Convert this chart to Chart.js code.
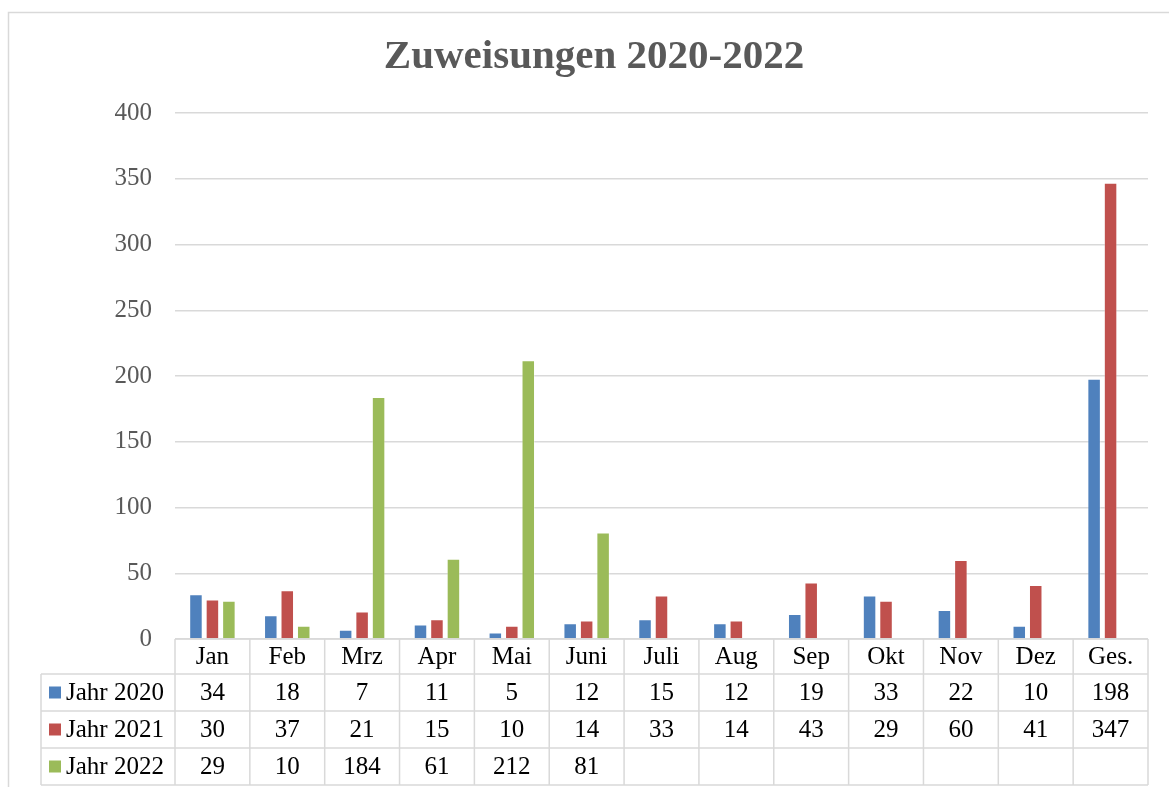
<!DOCTYPE html>
<html>
<head>
<meta charset="utf-8">
<title>Zuweisungen 2020-2022</title>
<script src="https://cdn.jsdelivr.net/npm/chart.js@4"></script>
<style>
  html, body { margin: 0; padding: 0; background: #fff; }
  #wrap { position: relative; width: 1169px; height: 787px; }
</style>
</head>
<body>
<div id="wrap"><canvas id="chart" width="1169" height="787"></canvas></div>
<script>
/* Zuweisungen 2020-2022 — bar chart with an Excel-style data table underneath */
const months = ["Jan", "Feb", "Mrz", "Apr", "Mai", "Juni", "Juli", "Aug", "Sep", "Okt", "Nov", "Dez", "Ges."];
const jahr2020 = [34, 18, 7, 11, 5, 12, 15, 12, 19, 33, 22, 10, 198];
const jahr2021 = [30, 37, 21, 15, 10, 14, 33, 14, 43, 29, 60, 41, 347];
const jahr2022 = [29, 10, 184, 61, 212, 81, null, null, null, null, null, null, null];
const seriesNames = ["Jahr 2020", "Jahr 2021", "Jahr 2022"];
const yTicks = [0, 50, 100, 150, 200, 250, 300, 350, 400];

const COLORS = ["#4F81BD", "#C0504D", "#9BBB59"];
const GRID = "#d9d9d9";
const SERIF = '"Liberation Serif", "DejaVu Serif", serif';

/* ---------- title, frame and data table ---------- */
const tablePlugin = {
  id: "dataTable",
  beforeDraw(chart) {
    const ctx = chart.ctx;
    ctx.save();
    ctx.strokeStyle = GRID;
    ctx.lineWidth = 1.5;
    ctx.beginPath();
    ctx.moveTo(8.5, 800);
    ctx.lineTo(8.5, 12.5);
    ctx.lineTo(1169, 12.5);
    ctx.stroke();

    ctx.fillStyle = "#595959";
    ctx.font = "bold 41px " + SERIF;
    ctx.textAlign = "center";
    ctx.textBaseline = "alphabetic";
    ctx.fillText("Zuweisungen 2020-2022", 594, 68);
    ctx.restore();
  },
  afterDraw(chart) {
    const ctx = chart.ctx;
    const area = chart.chartArea;
    const x = chart.scales.x;
    const colW = (area.right - area.left) / months.length;
    const tableLeft = 41;
    const rowTops = [area.bottom, area.bottom + 35, area.bottom + 72, area.bottom + 109, area.bottom + 146];
    const rows = [jahr2020, jahr2021, jahr2022];

    ctx.save();
    ctx.strokeStyle = GRID;
    ctx.lineWidth = 1.5;
    ctx.beginPath();
    // horizontal lines
    ctx.moveTo(area.left, rowTops[0]); ctx.lineTo(area.right, rowTops[0]);
    for (let r = 1; r < rowTops.length; r++) {
      ctx.moveTo(tableLeft, rowTops[r]); ctx.lineTo(area.right, rowTops[r]);
    }
    // vertical lines
    ctx.moveTo(tableLeft, rowTops[1]); ctx.lineTo(tableLeft, rowTops[4]);
    for (let c = 0; c <= months.length; c++) {
      const cx = area.left + c * colW;
      ctx.moveTo(cx, rowTops[0]); ctx.lineTo(cx, rowTops[4]);
    }
    ctx.stroke();

    ctx.fillStyle = "#000";
    ctx.font = "25px " + SERIF;
    ctx.textAlign = "center";
    ctx.textBaseline = "middle";
    months.forEach((m, i) => {
      ctx.fillText(m, x.getPixelForValue(i), (rowTops[0] + rowTops[1]) / 2 + 1);
    });
    rows.forEach((vals, r) => {
      const cy = (rowTops[r + 1] + rowTops[r + 2]) / 2 + 1;
      vals.forEach((v, i) => {
        if (v != null) ctx.fillText(String(v), x.getPixelForValue(i), cy);
      });
      // legend key
      ctx.fillStyle = COLORS[r];
      ctx.fillRect(49, cy - 7, 12, 12);
      ctx.fillStyle = "#000";
      ctx.textAlign = "left";
      ctx.fillText(seriesNames[r], 66, cy);
      ctx.textAlign = "center";
    });
    ctx.restore();
  },
};

/* ---------- chart ---------- */
const datasets = [jahr2020, jahr2021, jahr2022].map((data, i) => ({
  label: seriesNames[i],
  data,
  backgroundColor: COLORS[i],
  borderColor: "rgba(255,255,255,0.35)",
  borderWidth: 1,
  categoryPercentage: 0.66,
  barPercentage: 0.82,
}));

new Chart(document.getElementById("chart"), {
  type: "bar",
  data: { labels: months, datasets },
  options: {
    responsive: false,
    animation: false,
    layout: { padding: { top: 113, right: 21, bottom: 148, left: 0 } },
    plugins: { legend: { display: false }, title: { display: false }, tooltip: { enabled: false } },
    scales: {
      x: { display: false },
      y: {
        min: 0,
        max: 400,
        afterBuildTicks: (axis) => { axis.ticks = yTicks.map((v) => ({ value: v })); },
        afterFit: (axis) => { axis.width = 175; },
        border: { display: false },
        grid: { color: GRID, lineWidth: 1.5, drawTicks: false },
        ticks: { padding: 23, color: "#595959", font: { family: SERIF, size: 25 } },
      },
    },
  },
  plugins: [tablePlugin],
});
</script>
</body>
</html>
